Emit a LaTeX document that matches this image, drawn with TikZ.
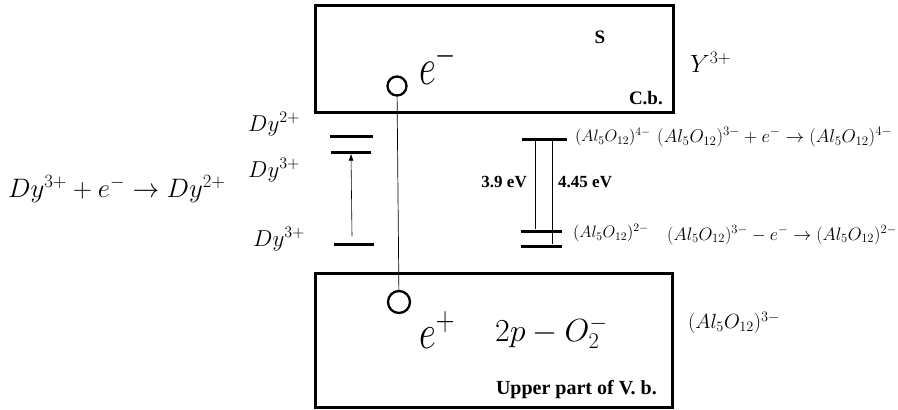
\RequirePackage{fix-cm}
\documentclass[tikz,border=0pt]{standalone}
\usepackage{fontspec}
\setmainfont{Liberation Serif}
\usetikzlibrary{positioning,arrows.meta}
\tikzset{
  band/.style    = {draw=black, line width=3pt},
  lvl/.style     = {fill=black, inner sep=0pt, minimum height=3pt},
  gap/.style     = {draw=black, line width=0.7pt},
  hole/.style    = {circle, draw=black, line width=2.3pt, minimum size=19pt, inner sep=0pt},
  bigm/.style    = {font=\fontsize{37}{37}\selectfont, anchor=base west, inner sep=0pt},
  midm/.style    = {font=\fontsize{32}{32}\selectfont, anchor=base west, inner sep=0pt},
  ion/.style     = {font=\fontsize{23}{23}\selectfont, anchor=west, inner sep=0pt},
  alo/.style     = {font=\fontsize{16.5}{16.5}\selectfont, anchor=west, inner sep=0pt},
  react/.style   = {font=\fontsize{18.5}{18.5}\selectfont, anchor=west, inner sep=0pt},
  bold/.style    = {font=\fontsize{19}{19}\selectfont\bfseries, inner sep=0pt},
  ev/.style      = {font=\fontsize{17}{17}\selectfont\bfseries, inner sep=0pt},
  excite/.style  = {-{Latex[length=7pt,width=5pt]}, line width=0.6pt},
}

\begin{document}
\begin{tikzpicture}[x=1pt,y=-1pt]
  \useasboundingbox (0,0) rectangle (898,410);

  % ---------- bands ----------
  \draw[band] (315,5) rectangle (673,112);
  \draw[band] (315,273) rectangle (672,407);
  \node[bold] (s) at (600,37) {S};
  \node[bold, anchor=east] (cb) at (663,98) {C.b.};
  \node[bold, font=\fontsize{20}{20}\selectfont\bfseries, anchor=east] (vb) at (657,390) {Upper part of V. b.};
  \node[ion, font=\fontsize{25}{25}\selectfont] (y3) at (690,62) {$Y^{3+}$};
  \node[midm] (o2) at (495,341) {$2p-O_2^-$};
  \node[alo, font=\fontsize{20.5}{20.5}\selectfont] (al3) at (688,323) {$(Al_5O_{12})^{3-}$};

  % electron and hole
  \node[hole] (em) at (397,86) {};
  \node[hole, minimum size=22pt] (ep) at (399,302) {};
  \draw[gap] (em) -- (ep);
  \node[bigm] (eml) at (419,84) {\scalebox{1}[1.4]{$e^-$}};
  \node[bigm] (epl) at (419,348) {\scalebox{1}[1.3]{$e^+$}};

  % ---------- Dy levels ----------
  \node[lvl, minimum width=43pt] (dy2) at (351.5,136) {};
  \node[lvl, minimum width=40pt] (dy3up) at (351,152) {};
  \node[lvl, minimum width=40pt] (dy3lo) at (354,244) {};
  \draw[excite] (dy3lo.north) ++(-2,-6) -- (dy3up.south);
  \node[ion] (ldy2) at (248,124) {$Dy^{2+}$};
  \node[ion] (ldy3) at (248,170) {$Dy^{3+}$};
  \node[ion] (ldy3b) at (253,239) {$Dy^{3+}$};
  \node[ion, font=\fontsize{26.7}{26.7}\selectfont] (rdy) at (8,189) {$Dy^{3+}+e^-\rightarrow Dy^{2+}$};

  % ---------- Al5O12 levels ----------
  \node[lvl, minimum width=45pt] (alu) at (544.5,139) {};
  \node[lvl, minimum width=41pt] (all) at (541.5,231) {};
  \node[lvl, minimum width=41pt] (allb) at (541.5,246) {};
  \coordinate (g1) at (535,0);
  \coordinate (g2) at (552,0);
  \draw[gap] (alu.south -| g1) -- (all.north -| g1);
  \draw[gap] (alu.south -| g2) -- (allb.north -| g2);
  \node[ev, anchor=east] (e39) at (527,182) {3.9 eV};
  \node[ev, anchor=west] (e445) at (558,182) {4.45 eV};
  \node[alo] (al4) at (575,137) {$(Al_5O_{12})^{4-}$};
  \node[alo] (al2) at (573,233) {$(Al_5O_{12})^{2-}$};
  \node[react] (r4) at (657,137) {$(Al_5O_{12})^{3-}+e^-\rightarrow(Al_5O_{12})^{4-}$};
  \node[react, font=\fontsize{18}{18}\selectfont] (r2) at (667,235) {$(Al_5O_{12})^{3-}-e^-\rightarrow(Al_5O_{12})^{2-}$};
\end{tikzpicture}
\end{document}
